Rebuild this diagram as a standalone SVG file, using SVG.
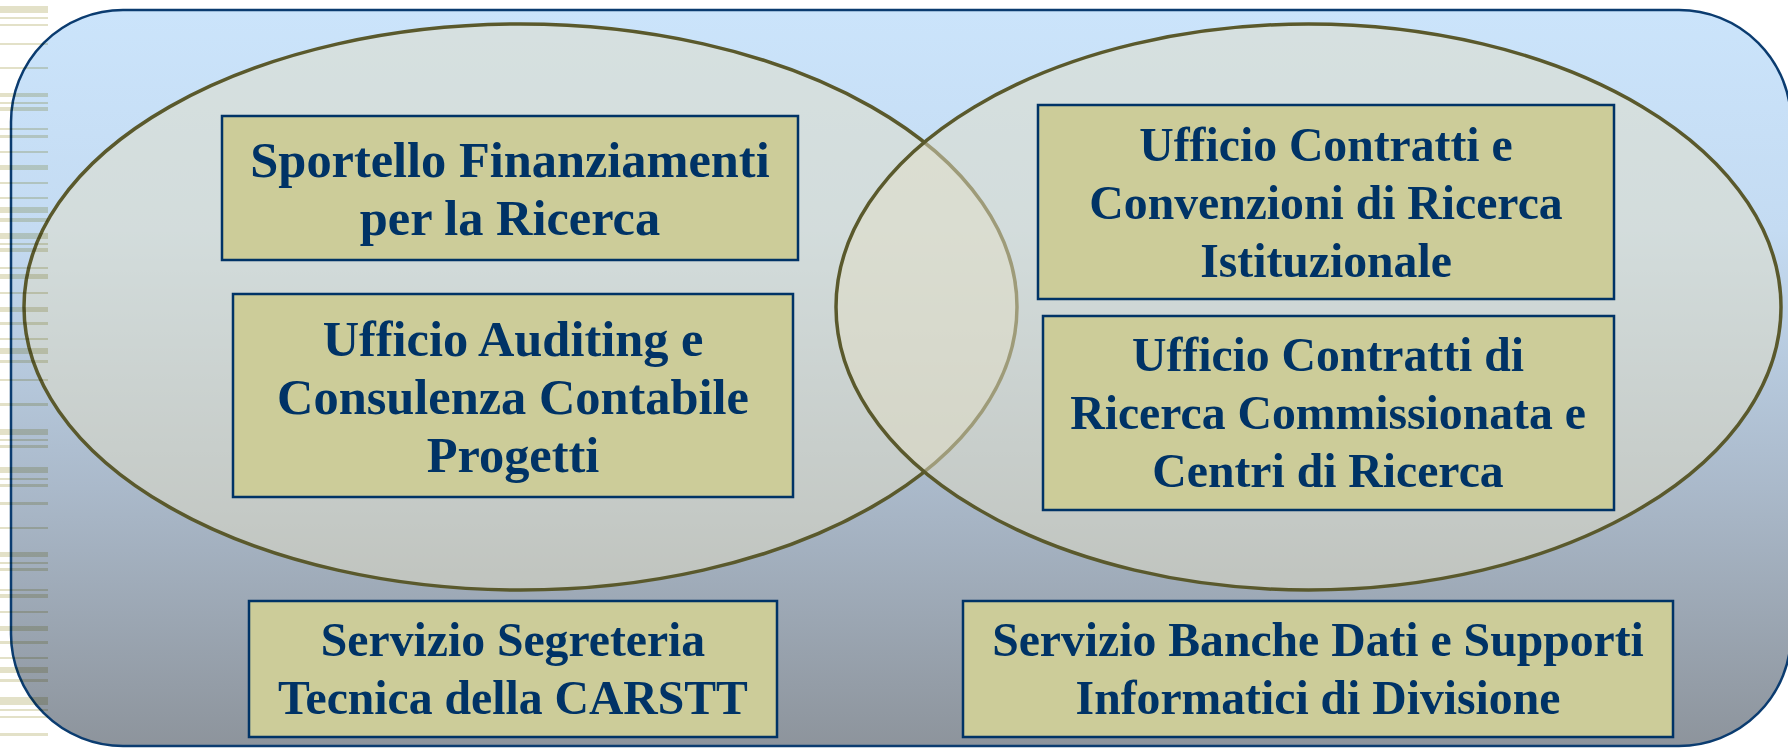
<svg xmlns="http://www.w3.org/2000/svg" width="1788" height="748" viewBox="0 0 1788 748">
<defs>
<linearGradient id="bg" x1="0" y1="0" x2="0" y2="1">
<stop offset="0" stop-color="#CBE4FB"/>
<stop offset="0.3" stop-color="#C4DBF2"/>
<stop offset="0.65" stop-color="#AAB9CA"/>
<stop offset="1" stop-color="#8D949C"/>
</linearGradient>
</defs>
<style>
.frame{fill:url(#bg);stroke:#0B3C70;stroke-width:2.5}
.venn{fill:#E2DEC6;fill-opacity:0.5;stroke:#5A592C;stroke-width:3.5}
.box{fill:#CCCC99;stroke:#003366;stroke-width:2.5}
.lbl{font-family:"Liberation Serif","Times New Roman",serif;font-weight:bold;fill:#003366;text-anchor:middle}
.big{font-size:50.4px}
.sm{font-size:47.7px}
.stripes rect{fill:#E3E1C8;mix-blend-mode:multiply}
</style>
<rect class="frame" x="11" y="10" width="1780" height="736" rx="112" ry="112"/>
<g id="sets">
<ellipse id="set-left" class="venn" cx="520.5" cy="307" rx="496.5" ry="283"/>
<ellipse id="set-right" class="venn" cx="1308.5" cy="307" rx="472.5" ry="283"/>
</g>
<g id="connectors"/>
<g id="n1">
<rect class="box" x="222" y="116" width="576" height="144"/>
<text class="lbl big" x="510" y="177">Sportello Finanziamenti</text>
<text class="lbl big" x="510" y="235">per la Ricerca</text>
</g>
<g id="n2">
<rect class="box" x="233" y="294" width="560" height="203"/>
<text class="lbl big" x="513" y="356">Ufficio Auditing e</text>
<text class="lbl big" x="513" y="414">Consulenza Contabile</text>
<text class="lbl big" x="513" y="472">Progetti</text>
</g>
<g id="n3">
<rect class="box" x="1038" y="105" width="576" height="194"/>
<text class="lbl sm" x="1326" y="161">Ufficio Contratti e</text>
<text class="lbl sm" x="1326" y="219">Convenzioni di Ricerca</text>
<text class="lbl sm" x="1326" y="277">Istituzionale</text>
</g>
<g id="n4">
<rect class="box" x="1043" y="316" width="571" height="194"/>
<text class="lbl sm" x="1328" y="371">Ufficio Contratti di</text>
<text class="lbl sm" x="1328" y="429">Ricerca Commissionata e</text>
<text class="lbl sm" x="1328" y="487">Centri di Ricerca</text>
</g>
<g id="n5">
<rect class="box" x="249" y="601" width="528" height="136"/>
<text class="lbl sm" x="513" y="656">Servizio Segreteria</text>
<text class="lbl sm" x="513" y="714">Tecnica della CARSTT</text>
</g>
<g id="n6">
<rect class="box" x="963" y="601" width="710" height="136"/>
<text class="lbl sm" x="1318" y="656">Servizio Banche Dati e Supporti</text>
<text class="lbl sm" x="1318" y="714">Informatici di Divisione</text>
</g>
<g class="stripes">
<rect x="0" y="6" width="48" height="7"/>
<rect x="0" y="17" width="48" height="2"/>
<rect x="0" y="24" width="48" height="2"/>
<rect x="0" y="43" width="48" height="2"/>
<rect x="0" y="67" width="48" height="2"/>
<rect x="0" y="93" width="48" height="4"/>
<rect x="0" y="102" width="48" height="2"/>
<rect x="0" y="107" width="48" height="4"/>
<rect x="0" y="128" width="48" height="2"/>
<rect x="0" y="135" width="48" height="3"/>
<rect x="0" y="151" width="48" height="2"/>
<rect x="0" y="165" width="48" height="5"/>
<rect x="0" y="182" width="48" height="2"/>
<rect x="0" y="197" width="48" height="2"/>
<rect x="0" y="207" width="48" height="6"/>
<rect x="0" y="218" width="48" height="4"/>
<rect x="0" y="233" width="48" height="6"/>
<rect x="0" y="243" width="48" height="2"/>
<rect x="0" y="248" width="48" height="4"/>
<rect x="0" y="267" width="48" height="2"/>
<rect x="0" y="274" width="48" height="5"/>
<rect x="0" y="292" width="48" height="2"/>
<rect x="0" y="307" width="48" height="5"/>
<rect x="0" y="322" width="48" height="3"/>
<rect x="0" y="338" width="48" height="2"/>
<rect x="0" y="348" width="48" height="6"/>
<rect x="0" y="360" width="48" height="3"/>
<rect x="0" y="379" width="48" height="2"/>
<rect x="0" y="403" width="48" height="3"/>
<rect x="0" y="429" width="48" height="6"/>
<rect x="0" y="439" width="48" height="2"/>
<rect x="0" y="445" width="48" height="3"/>
<rect x="0" y="467" width="48" height="6"/>
<rect x="0" y="478" width="48" height="2"/>
<rect x="0" y="484" width="48" height="3"/>
<rect x="0" y="502" width="48" height="3"/>
<rect x="0" y="527" width="48" height="2"/>
<rect x="0" y="552" width="48" height="5"/>
<rect x="0" y="562" width="48" height="2"/>
<rect x="0" y="568" width="48" height="3"/>
<rect x="0" y="589" width="48" height="2"/>
<rect x="0" y="594" width="48" height="4"/>
<rect x="0" y="611" width="48" height="2"/>
<rect x="0" y="626" width="48" height="5"/>
<rect x="0" y="641" width="48" height="3"/>
<rect x="0" y="657" width="48" height="2"/>
<rect x="0" y="667" width="48" height="6"/>
<rect x="0" y="679" width="48" height="3"/>
<rect x="0" y="697" width="48" height="8"/>
<rect x="0" y="709" width="48" height="2"/>
<rect x="0" y="716" width="48" height="2"/>
<rect x="0" y="733" width="48" height="3"/>
</g>
</svg>
